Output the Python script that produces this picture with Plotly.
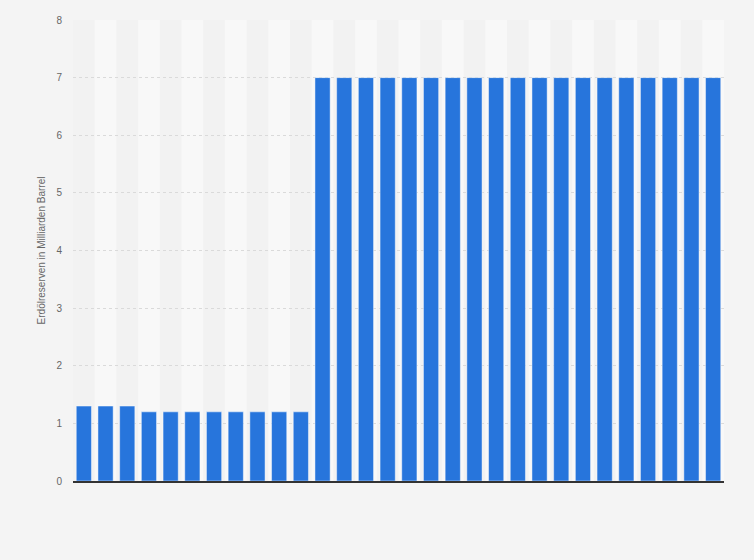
import plotly.graph_objects as go

categories = [str(y) for y in range(1990, 2020)]
values = [1.3, 1.3, 1.3, 1.2, 1.2, 1.2, 1.2, 1.2, 1.2, 1.2, 1.2] + [7.0] * 19
y_ticks = [0, 1, 2, 3, 4, 5, 6, 7, 8]
y_title = "Erdölreserven in Milliarden Barrel"

fig = go.Figure()
fig.add_trace(go.Bar(
    x=list(range(len(categories))), y=values,
    marker=dict(color="#2775dc", line=dict(color="rgba(255,255,255,0.45)", width=1)),
    hovertext=categories, showlegend=False,
))

shapes = []
for i in range(len(categories)):
    if i % 2 == 1:
        shapes.append(dict(type="rect", xref="x", yref="paper", x0=i - 0.5, x1=i + 0.5,
                           y0=0, y1=1, fillcolor="#f8f8f8", line=dict(width=0), layer="below"))

fig.update_layout(
    width=754, height=560,
    margin=dict(l=73, r=30, t=20, b=79),
    paper_bgcolor="#f4f4f4", plot_bgcolor="#f2f2f2",
    bargap=0.3,
    shapes=shapes,
    font=dict(family="Arial, Liberation Sans, sans-serif", color="#666"),
    xaxis=dict(range=[-0.5, len(categories) - 0.5], showticklabels=False, showgrid=False,
               zeroline=False, showline=True, linecolor="#333", linewidth=1.5, ticks=""),
    yaxis=dict(range=[0, 8], tickvals=y_ticks, showgrid=True, gridcolor="#dadada",
               griddash="dot", gridwidth=1, zeroline=False, ticks="", ticklabelstandoff=10,
               tickfont=dict(size=10, color="#666"),
               title=dict(text=y_title, font=dict(size=10, color="#666"), standoff=8)),
)

fig.write_html("out.html", config={"displayModeBar": False},
               post_script="document.body.style.margin='0';document.body.style.background='#f4f4f4';")
